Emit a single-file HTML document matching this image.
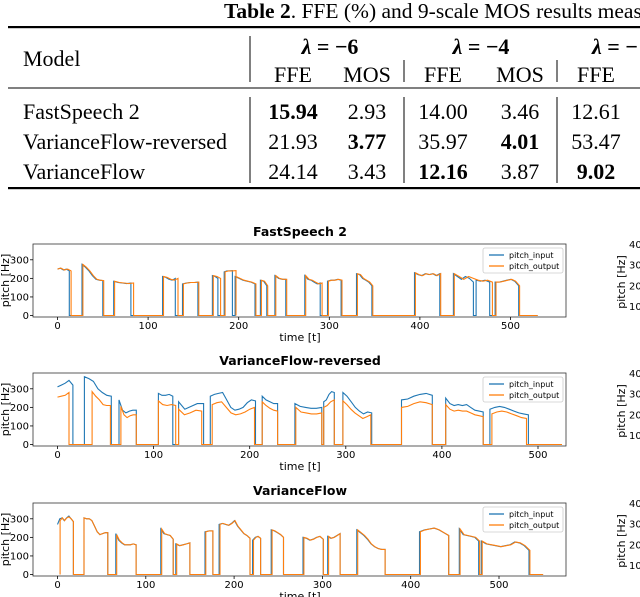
<!DOCTYPE html>
<html><head><meta charset="utf-8">
<style>
html,body{margin:0;padding:0;background:#fff;width:640px;height:597px;overflow:hidden}
svg{display:block}
.tt{font-family:"Liberation Serif",serif;font-size:22px;fill:#000}
.tk{font-family:"DejaVu Sans","Liberation Sans",sans-serif;font-size:10px;fill:#000}
.ttl{font-family:"DejaVu Sans","Liberation Sans",sans-serif;font-size:12.5px;font-weight:bold;fill:#000}
.lab{font-family:"DejaVu Sans","Liberation Sans",sans-serif;font-size:11px;fill:#000}
.lg{font-family:"DejaVu Sans","Liberation Sans",sans-serif;font-size:8px;fill:#000}
</style></head><body>
<svg id="root" width="640" height="597" viewBox="0 0 640 597">
<g>
  <text x="224" y="18" style="font-family:'Liberation Serif',serif;font-size:21.5px"><tspan font-weight="bold">Table 2</tspan>. FFE (%) and 9-scale MOS results meas</text>
  <rect x="8" y="26" width="632" height="2.2" fill="#000"/>
  <rect x="8" y="87.5" width="632" height="1" fill="#000"/>
  <rect x="8" y="187" width="632" height="2.2" fill="#000"/>
  <g stroke="#000" stroke-width="1">
    <line x1="250" y1="36" x2="250" y2="82"/><line x1="404" y1="60" x2="404" y2="82"/><line x1="557" y1="60" x2="557" y2="82"/>
    <line x1="250" y1="97" x2="250" y2="183"/><line x1="404" y1="97" x2="404" y2="183"/><line x1="557" y1="97" x2="557" y2="183"/>
  </g>
  <text class="tt" x="23" y="66">Model</text>
  <text class="tt" x="330" y="54" text-anchor="middle" font-weight="bold"><tspan font-style="italic">λ</tspan> = −6</text>
  <text class="tt" x="481" y="54" text-anchor="middle" font-weight="bold"><tspan font-style="italic">λ</tspan> = −4</text>
  <text class="tt" x="592" y="54" font-weight="bold"><tspan font-style="italic">λ</tspan> = −</text>
  <g class="tt" text-anchor="middle">
    <text x="293" y="82">FFE</text><text x="367" y="82">MOS</text><text x="443" y="82">FFE</text><text x="520" y="82">MOS</text><text x="596" y="82">FFE</text>
  </g>
  <g class="tt">
    <text x="23" y="119">FastSpeech 2</text>
    <text x="293" y="119" text-anchor="middle" font-weight="bold">15.94</text><text x="367" y="119" text-anchor="middle">2.93</text>
    <text x="443" y="119" text-anchor="middle">14.00</text><text x="520" y="119" text-anchor="middle">3.46</text><text x="596" y="119" text-anchor="middle">12.61</text>
  </g>
  <g class="tt">
    <text x="23" y="149">VarianceFlow-reversed</text>
    <text x="293" y="149" text-anchor="middle">21.93</text><text x="367" y="149" text-anchor="middle" font-weight="bold">3.77</text>
    <text x="443" y="149" text-anchor="middle">35.97</text><text x="520" y="149" text-anchor="middle" font-weight="bold">4.01</text><text x="596" y="149" text-anchor="middle">53.47</text>
  </g>
  <g class="tt">
    <text x="23" y="179">VarianceFlow</text>
    <text x="293" y="179" text-anchor="middle">24.14</text><text x="367" y="179" text-anchor="middle">3.43</text>
    <text x="443" y="179" text-anchor="middle" font-weight="bold">12.16</text><text x="520" y="179" text-anchor="middle">3.87</text><text x="596" y="179" text-anchor="middle" font-weight="bold">9.02</text>
  </g>
</g>
</svg>
<script>
// ---- data: segments [startT, endT, values evenly spaced] ----
const xTicks = [0,100,200,300,400,500];
const yTicks = [0,100,200,300];
const titles = ["FastSpeech 2","VarianceFlow-reversed","VarianceFlow"];
const xMaxes = [530, 525, 550];
const fs2Input = [[0,13,[250,255,245,250,240]],[27,50,[275,260,240,215,195,190,188]],[62,81,[185,178,175,172,175]],[116,130,[210,205,195,190,200]],[138,155,[170,175,178,178,180]],[171,177,[215,210,200]],[184,193,[235,240,240,242]],[196,218,[210,200,190,185,180,170]],[224,231,[190,185,160]],[240,252,[215,200,195,195]],[273,290,[215,195,190,180,170,175]],[298,313,[185,190,190,195,190]],[330,347,[225,220,200,190,180,160]],[394,422,[230,220,215,225,220,225,215,225]],[437,459,[225,210,195,210,200,180]],[462,477,[190,185,190,180]],[483,509,[180,180,185,190,195,185,160]]];
const fs2Output = [[0,15,[250,255,245,250,240]],[28,51,[275,260,240,215,195,190,188]],[63,84,[185,178,175,172,175]],[117,133,[210,205,195,190,200]],[139,156,[170,175,178,178,180]],[172,180,[215,210,200]],[185,197,[235,240,240,242]],[197,219,[210,200,190,185,180,170]],[225,232,[190,185,160]],[241,253,[215,200,195,195]],[274,292,[215,195,190,180,170,175]],[299,314,[185,190,190,195,190]],[331,348,[225,220,200,190,180,160]],[395,423,[230,220,215,225,220,225,215,225]],[438,480,[225,210,195,210,200,190,185,190,180]],[484,510,[180,180,185,190,195,185,160]]];
const vfrInput = [[0,16,[310,320,330,345,320]],[28,56,[365,355,340,300,280,265,260]],[64,82,[240,185,170,180,185,185]],[105,120,[275,265,265,270,260]],[126,152,[230,190,205,220,220]],[159,206,[260,270,275,280,240,200,185,190,200,225,240,235]],[213,229,[260,240,230,220,220]],[247,275,[220,205,200,195,195,200]],[277,288,[230,240,270,285,280]],[297,327,[280,260,230,200,180,165,175,170]],[358,390,[240,245,260,270,275,265]],[404,443,[250,220,210,215,210,215,200,185,180,175]],[450,490,[190,200,205,200,190,180,170,165,160]]];
const vfrOutput = [[0,12,[255,260,265,280]],[36,55,[285,260,240,215,210,210]],[66,82,[205,160,145,155,160,160]],[105,123,[235,215,210,215,210]],[126,150,[190,160,170,185,180]],[161,205,[215,225,230,200,170,160,165,175,190,200]],[213,229,[230,210,195,185,180]],[248,275,[200,175,170,165,165,170]],[277,288,[200,210,230,240]],[297,326,[235,215,190,170,155,140,150,160]],[358,390,[200,205,220,230,225,215]],[404,443,[215,190,180,185,180,180,170,160,155,150]],[452,488,[165,175,180,175,165,155,145,140]]];
const vfInput = [[0,18,[270,300,305,290,305,315,300,285]],[30,57,[305,300,300,290,260,230,215,220,225,225]],[66,89,[220,185,170,160,160,160,165,160]],[117,131,[245,220,215,210,190]],[134,150,[165,155,160,165,170]],[167,176,[230,235,235]],[183,218,[270,275,270,265,275,290,260,240,220,210,195]],[221,230,[185,200,205,195]],[242,256,[240,235,225,215,200]],[278,301,[200,195,185,190,200,205,190]],[306,320,[205,195,200,210,220]],[339,371,[240,225,210,190,165,150,140,135,135]],[410,443,[230,240,245,250,240,225,210]],[455,477,[245,215,210,205,200,180]],[480,534,[180,165,160,155,150,155,160,175,170,155,130]]];
const vfOutput = [[3,18,[290,305,290,305,310,300,285]],[30,57,[305,300,300,290,260,230,215,220,225,225]],[67,89,[215,185,170,160,160,160,165,160]],[118,131,[245,220,215,210,190]],[135,150,[165,155,160,165,170]],[168,176,[230,235,235]],[184,218,[270,275,270,265,275,290,260,240,220,210,195]],[222,230,[185,200,205,195]],[243,256,[240,235,225,215,200]],[279,301,[200,195,185,190,200,205,190]],[307,320,[205,195,200,210,220]],[340,371,[240,225,210,190,165,150,140,135,135]],[411,443,[230,240,245,250,240,225,210]],[456,478,[245,215,210,205,200,180]],[481,535,[180,165,160,155,150,155,160,175,170,155,130]]];
const seriesIn = [fs2Input, vfrInput, vfInput];
const seriesOut = [fs2Output, vfrOutput, vfOutput];

const NS = "http://www.w3.org/2000/svg";
const root = document.getElementById('root');
function mk(tag, attrs, parent){const e=document.createElementNS(NS,tag);for(const k in attrs)e.setAttribute(k,attrs[k]);parent.appendChild(e);return e;}
const boxL=33, boxR=566, boxH=73, x0px=57.5, xUnit=[0.906,0.961,0.883], tops=[244,373,503];
const yMin=-8, yMax=385;

for(let c=0;c<3;c++){
  const top=tops[c], bot=top+boxH;
  const sx = t => x0px + t*xUnit[c];
  const sy = v => bot - (v-yMin)/(yMax-yMin)*boxH;
  const g = mk('g',{},root);
  
  
  const ttl = mk('text',{x:300,y:top-8,'text-anchor':'middle',class:'ttl'},g);
  ttl.textContent = titles[c];
  
  
  const clipId='clip'+c;
  const cp = mk('clipPath',{id:clipId},g); mk('rect',{x:boxL,y:top,width:boxR-boxL,height:boxH},cp);
  function path(segs,color,name){
    let pts=[];
    segs.forEach(([s,e,vals],i)=>{
      if(s>0||i>0) pts.push([s,0]);
      vals.forEach((v,j)=>pts.push([s+j*(e-s)/(vals.length-1),v]));
      pts.push([e,0]);
    });
    pts.push([xMaxes[c],0]);
    const d='M'+pts.map(p=>sx(p[0]).toFixed(1)+','+sy(p[1]).toFixed(1)).join('L');
    const p = mk('path',{d:d,fill:'none',stroke:color,'stroke-width':1.1,'clip-path':'url(#'+clipId+')'},g);
    
    
  }
  path(seriesIn[c],'#1f77b4','pitch-input-line');
  path(seriesOut[c],'#ff7f0e','pitch-output-line');
  const fr = mk('rect',{x:boxL,y:top,width:boxR-boxL,height:boxH,fill:'none',stroke:'#333','stroke-width':0.8},g);
  
  
  xTicks.forEach(t=>{
    mk('line',{x1:sx(t),x2:sx(t),y1:bot,y2:bot+3,stroke:'#000','stroke-width':0.8},g);
    const tx = mk('text',{x:sx(t),y:bot+12,'text-anchor':'middle',class:'tk'},g);
    tx.textContent=t;
    
    
  });
  yTicks.forEach(v=>{
    mk('line',{x1:boxL-3,x2:boxL,y1:sy(v),y2:sy(v),stroke:'#000','stroke-width':0.8},g);
    const tx = mk('text',{x:boxL-4,y:sy(v)+3.5,'text-anchor':'end',class:'tk'},g);
    tx.textContent=v;
    
    
  });
  const xl = mk('text',{x:300,y:bot+24,'text-anchor':'middle',class:'lab'},g);
  xl.textContent='time [t]';
  
  
  const yl = mk('text',{x:0,y:0,'text-anchor':'middle',class:'lab',transform:'translate(9,'+(top+boxH/2)+') rotate(-90)'},g);
  yl.textContent='pitch [Hz]';
  
  
  const lg = mk('g',{},g);
  
  
  mk('rect',{x:483,y:top+4,width:80,height:25,rx:2,fill:'#fff',stroke:'#ccc','stroke-width':0.8},lg);
  mk('line',{x1:489,x2:504,y1:top+11,y2:top+11,stroke:'#1f77b4','stroke-width':1.3},lg);
  mk('line',{x1:489,x2:504,y1:top+22,y2:top+22,stroke:'#ff7f0e','stroke-width':1.3},lg);
  const l1=mk('text',{x:509,y:top+14,class:'lg'},lg); l1.textContent='pitch_input';
  
  
  const l2=mk('text',{x:509,y:top+25,class:'lg'},lg); l2.textContent='pitch_output';
  
  
  const rp = mk('g',{},g);
  
  
  const ryl = mk('text',{x:0,y:0,'text-anchor':'middle',class:'lab',transform:'translate(625,'+(top+38)+') rotate(-90)'},rp);
  ryl.textContent='pitch [Hz]';
  ['400','300','200','100'].forEach((s,i)=>{
    const t=mk('text',{x:629,y:top+4+i*20.7,class:'tk'},rp); t.textContent=s;
  });
}
</script>
</body></html>
